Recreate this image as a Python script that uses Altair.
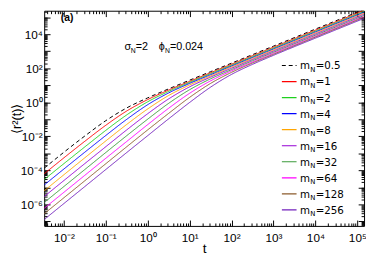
import altair as alt
import pandas as pd

# ---------------- data (log10 units) ----------------
LOG_T = [-2.47, -1.5, -1.0, -0.5, 0.0, 0.5, 1.0, 1.5, 2.0, 2.5, 3.0, 4.0, 5.16]
M_LABELS = ["0.5", "1", "2", "4", "8", "16", "32", "64", "128", "256"]
LOG_MSD_M0_5 = [-3.87, -1.98, -1.08, -0.33, 0.26, 0.79, 1.30, 1.80, 2.30, 2.80, 3.30, 4.30, 5.46]
LOG_MSD_M1 = [-4.20, -2.29, -1.35, -0.51, 0.16, 0.72, 1.23, 1.74, 2.24, 2.74, 3.24, 4.24, 5.40]
LOG_MSD_M2 = [-4.54, -2.62, -1.65, -0.74, 0.03, 0.64, 1.17, 1.68, 2.18, 2.68, 3.18, 4.18, 5.34]
LOG_MSD_M4 = [-4.86, -2.93, -1.95, -1.00, -0.14, 0.55, 1.11, 1.62, 2.13, 2.63, 3.13, 4.13, 5.29]
LOG_MSD_M8 = [-5.20, -3.26, -2.27, -1.30, -0.39, 0.40, 1.02, 1.55, 2.07, 2.57, 3.07, 4.07, 5.23]
LOG_MSD_M16 = [-5.54, -3.60, -2.61, -1.62, -0.67, 0.20, 0.91, 1.48, 2.00, 2.51, 3.01, 4.01, 5.17]
LOG_MSD_M32 = [-5.89, -3.95, -2.95, -1.96, -0.99, -0.06, 0.74, 1.38, 1.92, 2.44, 2.94, 3.94, 5.10]
LOG_MSD_M64 = [-6.23, -4.29, -3.29, -2.30, -1.31, -0.35, 0.53, 1.26, 1.85, 2.37, 2.88, 3.88, 5.04]
LOG_MSD_M128 = [-6.55, -4.61, -3.61, -2.61, -1.62, -0.65, 0.29, 1.11, 1.76, 2.31, 2.82, 3.83, 4.99]
LOG_MSD_M256 = [-6.89, -4.95, -3.95, -2.95, -1.96, -0.97, -0.01, 0.89, 1.64, 2.23, 2.76, 3.77, 4.93]
SERIES = [LOG_MSD_M0_5, LOG_MSD_M1, LOG_MSD_M2, LOG_MSD_M4, LOG_MSD_M8,
          LOG_MSD_M16, LOG_MSD_M32, LOG_MSD_M64, LOG_MSD_M128, LOG_MSD_M256]
COLORS = ["#000000", "#ff0000", "#1fd01f", "#0000ff", "#ffa500",
          "#9400d3", "#3a9a3a", "#ff00ff", "#8b5a2b", "#7221bc"]
DASHES = [[4, 3]] + [[1, 0]] * 9

X_LABEL_EXP = [-2, -1, 0, 1, 2, 3, 4, 5]
Y_LABEL_EXP = [-6, -4, -2, 0, 2, 4]
X_DOMAIN_EXP = [-2.47, 5.16]
Y_DOMAIN_EXP = [-7.265, 5.379]

W, H = 327, 220
FONT = "Liberation Sans"
LFONT = "DejaVu Sans"

rows = []
for name, vals in zip(M_LABELS, SERIES):
    for lt, ly in zip(LOG_T, vals):
        rows.append({"t": 10 ** lt, "msd": 10 ** ly, "m": name})
df = pd.DataFrame(rows)

xs = alt.Scale(type="log", domain=[10 ** X_DOMAIN_EXP[0], 10 ** X_DOMAIN_EXP[1]], nice=False)
ys = alt.Scale(type="log", domain=[10 ** Y_DOMAIN_EXP[0], 10 ** Y_DOMAIN_EXP[1]], nice=False)


def log_ticks(lo, hi):
    out = []
    for k in range(int(lo) - 1, int(hi) + 2):
        for m in range(1, 10):
            v = m * 10.0 ** k
            if 10 ** lo <= v <= 10 ** hi:
                out.append(v)
    return out


X_TICKS = log_ticks(*X_DOMAIN_EXP)
Y_TICKS = log_ticks(*Y_DOMAIN_EXP)

MAJOR = "abs(log(datum.value)/LN10 - round(log(datum.value)/LN10)) < 0.001"
TICK_SIZE = {"condition": {"test": MAJOR, "value": 6}, "value": 3}
SUP = "['⁰','¹','²','³','⁴','⁵','⁶','⁷','⁸','⁹']"
LABEL_EXPR = ("'10' + (round(log(datum.value)/LN10) < 0 ? '⁻' : '') + "
              + SUP + "[abs(round(log(datum.value)/LN10))]")

x_label_axis = alt.Axis(
    values=[10.0 ** e for e in X_LABEL_EXP], labelExpr=LABEL_EXPR,
    ticks=False, tickSize=0, domain=False, grid=False,
    labelFont=FONT, labelFontSize=12, labelColor="black",
    labelPadding=16, labelBaseline="alphabetic", labelFlush=False, labelOverlap=False,
    title="t", titleFont=FONT, titleFontSize=14, titleFontWeight="normal",
    titleColor="black", titleY=27, titleBaseline="alphabetic")
y_label_axis = alt.Axis(
    values=[10.0 ** e for e in Y_LABEL_EXP], labelExpr=LABEL_EXPR,
    ticks=False, tickSize=0, domain=False, grid=False,
    labelFont=FONT, labelFontSize=12, labelColor="black",
    labelPadding=2, labelFlush=False, labelOverlap=False,
    title="⟨r²(t)⟩", titleFont=FONT, titleFontSize=13, titleFontWeight="normal",
    titleColor="black", titleX=-28, titleY=110, titleAngle=270, titleBaseline="middle",
    titleAlign="center")


def tick_axis(values, orient, offset):
    return alt.Axis(values=values, orient=orient, offset=offset, labels=False,
                    domain=False, grid=False, title=None, ticks=True,
                    tickColor="black", tickWidth=1, tickSize=TICK_SIZE)


lines = alt.Chart(df).mark_line(strokeWidth=1, interpolate="monotone", clip=True).encode(
    x=alt.X("t:Q", scale=xs, axis=x_label_axis),
    y=alt.Y("msd:Q", scale=ys, axis=y_label_axis),
    color=alt.Color("m:N", scale=alt.Scale(domain=M_LABELS, range=COLORS), legend=None),
    strokeDash=alt.StrokeDash("m:N", scale=alt.Scale(domain=M_LABELS, range=DASHES), legend=None),
)

dom = pd.DataFrame({"t": [10 ** X_DOMAIN_EXP[0], 10 ** X_DOMAIN_EXP[1]],
                    "v": [10 ** Y_DOMAIN_EXP[0], 10 ** Y_DOMAIN_EXP[1]]})
ticks_a = alt.Chart(dom).mark_point(opacity=0).encode(
    x=alt.X("t:Q", scale=xs, axis=tick_axis(X_TICKS, "top", -H)),
    y=alt.Y("v:Q", scale=ys, axis=tick_axis(Y_TICKS, "right", -W)),
)
ticks_b = alt.Chart(dom).mark_point(opacity=0).encode(
    x=alt.X("t:Q", scale=xs, axis=tick_axis(X_TICKS, "bottom", -H)),
    y=alt.Y("v:Q", scale=ys, axis=tick_axis(Y_TICKS, "left", -W)),
)

# ---------------- legend (hand-built to allow the subscript) ----------------
leg = pd.DataFrame({"m": M_LABELS, "k": list(range(len(M_LABELS))),
                    "eq": ["=" + s for s in M_LABELS]})
leg_base = alt.Chart(leg).transform_calculate(py="56 + 16.4 * datum.k")
leg_lines = leg_base.mark_rule(strokeWidth=1.2).encode(
    x=alt.value(243), x2=alt.value(258), y=alt.Y("py:Q", scale=None),
    color=alt.Color("m:N", scale=alt.Scale(domain=M_LABELS, range=COLORS), legend=None),
    strokeDash=alt.StrokeDash("m:N", scale=alt.Scale(domain=M_LABELS, range=DASHES), legend=None),
)
leg_m = leg_base.mark_text(align="left", baseline="alphabetic", dy=4, font=LFONT,
                           fontSize=10.5, color="black").encode(
    x=alt.value(261.5), y=alt.Y("py:Q", scale=None), text=alt.value("m"))
leg_n = leg_base.mark_text(align="left", baseline="alphabetic", dy=6.5, font=LFONT,
                           fontSize=7, color="black").encode(
    x=alt.value(272), y=alt.Y("py:Q", scale=None), text=alt.value("N"))
leg_eq = leg_base.mark_text(align="left", baseline="alphabetic", dy=4, font=LFONT,
                            fontSize=10.5, color="black").encode(
    x=alt.value(277.5), y=alt.Y("py:Q", scale=None), text="eq:N")

# ---------------- annotations ----------------
one = pd.DataFrame({"a": [0]})


def txt(s, x, y, size=11, weight="normal"):
    return alt.Chart(one).mark_text(align="left", baseline="alphabetic", font=FONT,
                                    fontSize=size, fontWeight=weight, color="black").encode(
        x=alt.value(x), y=alt.value(y), text=alt.value(s))


annots = [
    txt("σ", 82, 40.5), txt("N", 88.5, 43, 7), txt("=2", 93.5, 40.5),
    txt("ϕ", 117, 40.5), txt("N", 123.5, 43, 7), txt("=0.024", 128.5, 40.5),
    txt("(a)", 17, 10, 10.5, "bold"),
]

chart = alt.layer(lines, ticks_a, ticks_b, leg_lines, leg_m, leg_n, leg_eq, *annots).resolve_axis(
    x="independent", y="independent"
).properties(
    width=W, height=H, autosize=alt.AutoSizeParams(type="none"),
    padding={"left": 37, "top": 0, "right": 2, "bottom": 30}, background="white",
).configure_view(stroke="black", strokeWidth=1)

chart.save("out.html", embed_options={"renderer": "svg", "actions": False})
